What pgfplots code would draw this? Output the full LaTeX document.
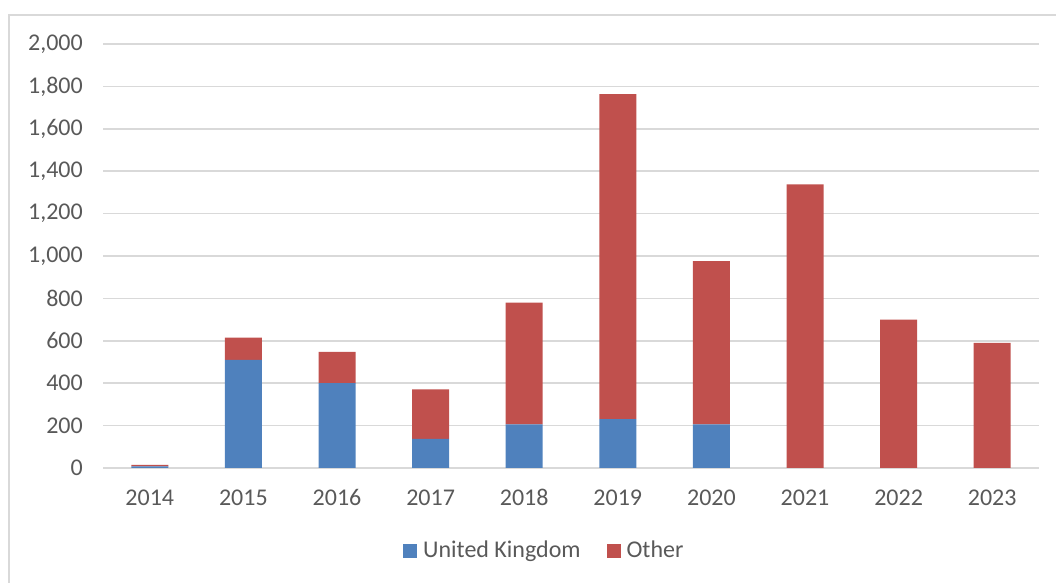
\documentclass[border=0pt]{standalone}
\usepackage{pgfplots}
\pgfplotsset{compat=1.18}
\usepackage{fontspec}
\setmainfont{Carlito}
\definecolor{ukblue}{HTML}{4F81BD}
\definecolor{othred}{HTML}{C0504D}
\definecolor{gridgray}{HTML}{D9D9D9}
\definecolor{txtgray}{HTML}{595959}
\begin{document}
\fontsize{24bp}{28bp}\selectfont
\begin{tikzpicture}[x=1bp,y=1bp]
\useasboundingbox (0,0) rectangle (1056,583);
\draw[gridgray, line width=1.4bp] (9,-10) -- (9,568) -- (1070,568);
\begin{axis}[
    at={(103bp,115bp)}, anchor=south west,
    scale only axis,
    width=936bp, height=424bp,
    ybar stacked,
    bar width=37bp,
    xmin=-0.5, xmax=9.5,
    ymin=0, ymax=2000,
    xtick=data,
    xticklabels={2014,2015,2016,2017,2018,2019,2020,2021,2022,2023},
    ytick distance=200,
    ymajorgrids,
    grid style={gridgray, line width=1.6bp},
    axis line style={draw=none},
    major tick length=0pt,
    tick label style={font=\fontsize{24bp}{28bp}\selectfont, text=txtgray},
    yticklabel style={xshift=-12bp},
    xticklabel style={anchor=base, yshift=-38bp},
    /pgf/number format/.cd, 1000 sep={,}, assume math mode=true,
    /pgfplots/.cd,
    legend style={at={(0.4715,-0.196)}, anchor=center, draw=none,
      font=\fontsize{24bp}{28bp}\selectfont, text=txtgray,
      legend columns=2,
      /tikz/every odd column/.append style={column sep=4bp},
      /tikz/every even column/.append style={column sep=24bp}},
    legend image code/.code={\fill[#1] (0bp,-7bp) rectangle (14bp,7bp);},
  ]
\addplot[fill=ukblue, draw=none] coordinates {
  (0,8) (1,510) (2,400) (3,137) (4,206) (5,230) (6,206) (7,0) (8,0) (9,0)};
\addplot[fill=othred, draw=none] coordinates {
  (0,7) (1,105) (2,148) (3,234) (4,574) (5,1533) (6,770) (7,1338) (8,700) (9,590)};
\legend{United Kingdom, Other}
\end{axis}
\end{tikzpicture}
\end{document}
